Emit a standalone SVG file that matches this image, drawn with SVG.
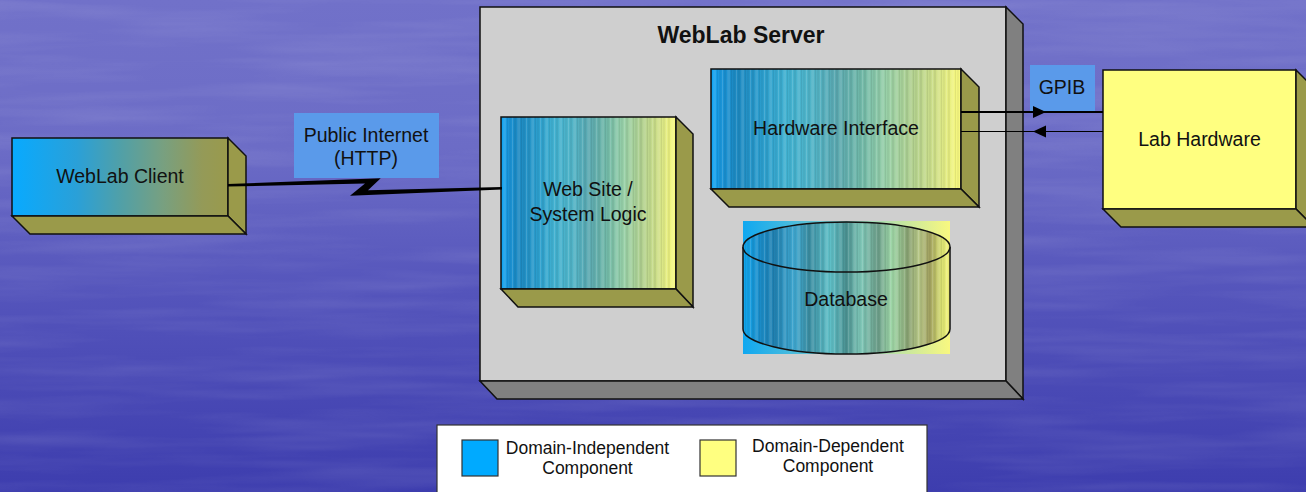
<svg xmlns="http://www.w3.org/2000/svg" width="1306" height="492" viewBox="0 0 1306 492">
  <defs>
    <linearGradient id="bg" x1="0" y1="0" x2="0" y2="1">
      <stop offset="0" stop-color="#7171c9"/>
      <stop offset="0.3" stop-color="#6c6cc6"/>
      <stop offset="0.6" stop-color="#5454bb"/>
      <stop offset="1" stop-color="#3d3dae"/>
    </linearGradient>
    <filter id="marble" x="0" y="0" width="100%" height="100%">
      <feTurbulence type="fractalNoise" baseFrequency="0.004 0.06" numOctaves="3" seed="7"/>
      <feColorMatrix type="matrix" values="0 0 0 0 1  0 0 0 0 1  0 0 0 0 1  0 0 0 -0.9 0.55"/>
    </filter>
    <linearGradient id="clientFill" x1="0" y1="0" x2="1" y2="0">
      <stop offset="0" stop-color="#08aaff"/>
      <stop offset="0.3" stop-color="#2aa0d8"/>
      <stop offset="0.5" stop-color="#50a0a8"/>
      <stop offset="0.7" stop-color="#78a080"/>
      <stop offset="0.88" stop-color="#949a58"/>
      <stop offset="1" stop-color="#9a9a4c"/>
    </linearGradient>
    <linearGradient id="compFill" x1="0" y1="0" x2="1" y2="0">
      <stop offset="0" stop-color="#10a8f8"/>
      <stop offset="0.04" stop-color="#1a94d8"/>
      <stop offset="0.1" stop-color="#1c88c0"/>
      <stop offset="0.2" stop-color="#2a9ccc"/>
      <stop offset="0.3" stop-color="#40b0d0"/>
      <stop offset="0.4" stop-color="#50b4c8"/>
      <stop offset="0.5" stop-color="#5aa8b0"/>
      <stop offset="0.6" stop-color="#70b8a8"/>
      <stop offset="0.7" stop-color="#98d0a8"/>
      <stop offset="0.8" stop-color="#b0d090"/>
      <stop offset="0.9" stop-color="#d0e088"/>
      <stop offset="0.97" stop-color="#f0f480"/>
      <stop offset="1" stop-color="#f8f880"/>
    </linearGradient>
    <linearGradient id="dbBack" x1="0" y1="0" x2="1" y2="0">
      <stop offset="0" stop-color="#10a8f0"/>
      <stop offset="0.5" stop-color="#88d0c8"/>
      <stop offset="1" stop-color="#f8f880"/>
    </linearGradient>
    <linearGradient id="dbFill" x1="0" y1="0" x2="1" y2="0">
      <stop offset="0" stop-color="#10a8f0"/>
      <stop offset="0.08" stop-color="#1a8cc8"/>
      <stop offset="0.15" stop-color="#2080b0"/>
      <stop offset="0.25" stop-color="#40a8d0"/>
      <stop offset="0.32" stop-color="#3a8ca0"/>
      <stop offset="0.42" stop-color="#60c0c8"/>
      <stop offset="0.5" stop-color="#4a9090"/>
      <stop offset="0.57" stop-color="#80c8b8"/>
      <stop offset="0.65" stop-color="#6a9c88"/>
      <stop offset="0.72" stop-color="#a0d8a8"/>
      <stop offset="0.8" stop-color="#88a070"/>
      <stop offset="0.85" stop-color="#b8c888"/>
      <stop offset="0.9" stop-color="#a0a060"/>
      <stop offset="0.96" stop-color="#d8e070"/>
      <stop offset="1" stop-color="#f8f880"/>
    </linearGradient>
    <!-- fine vertical banding laid over the component faces -->
    <pattern id="stripes" patternUnits="userSpaceOnUse" width="14" height="10">
      <rect x="0" y="0" width="2" height="10" fill="#fff" fill-opacity="0.11"/>
      <rect x="3" y="0" width="1" height="10" fill="#000" fill-opacity="0.07"/>
      <rect x="5" y="0" width="2" height="10" fill="#000" fill-opacity="0.04"/>
      <rect x="8" y="0" width="1" height="10" fill="#fff" fill-opacity="0.14"/>
      <rect x="10" y="0" width="2" height="10" fill="#000" fill-opacity="0.06"/>
      <rect x="13" y="0" width="1" height="10" fill="#fff" fill-opacity="0.08"/>
    </pattern>
  </defs>
  <style>
    .edge { stroke: #111; stroke-width: 1.5; stroke-linejoin: miter; }
    .olive { fill: #9a9a4a; }
    .grey-side { fill: #808080; }
    .label { font-family: "Liberation Sans", Arial, sans-serif; font-size: 19.5px; fill: #111; text-anchor: middle; }
    .title { font-family: "Liberation Sans", Arial, sans-serif; font-size: 23px; font-weight: bold; fill: #111; text-anchor: middle; }
    .legend-text { font-family: "Liberation Sans", Arial, sans-serif; font-size: 17.5px; fill: #111; text-anchor: middle; }
    .tag { fill: #5a9aea; }
  </style>

  <!-- backdrop -->
  <rect x="0" y="0" width="1306" height="492" fill="url(#bg)"/>
  <rect x="0" y="0" width="1306" height="492" filter="url(#marble)" opacity="0.2"/>

  <g id="server">
    <rect class="edge" x="480" y="7" width="526" height="374" fill="#cfcfcf"/>
    <polygon class="edge grey-side" points="1006,7 1023,24 1023,399 1006,381"/>
    <polygon class="edge grey-side" points="480,381 1006,381 1023,399 497,399"/>
    <text class="title" x="741" y="43">WebLab Server</text>
  </g>

  <g id="client">
    <rect class="edge" x="12" y="138" width="216" height="78" fill="url(#clientFill)"/>
    <polygon class="edge olive" points="228,138 246,156 246,234 228,216"/>
    <polygon class="edge olive" points="12,216 228,216 246,234 30,234"/>
    <text class="label" x="120" y="183">WebLab Client</text>
  </g>

  <g id="web-site">
    <rect x="501" y="117" width="175" height="172" fill="url(#compFill)"/>
    <rect x="501" y="117" width="175" height="172" fill="url(#stripes)"/>
    <rect class="edge" x="501" y="117" width="175" height="172" fill="none"/>
    <polygon class="edge olive" points="676,117 693,134 693,307 676,289"/>
    <polygon class="edge olive" points="501,289 676,289 693,307 518,307"/>
    <text class="label" x="588" y="196">Web Site /</text>
    <text class="label" x="588" y="221">System Logic</text>
  </g>

  <g id="hardware-interface">
    <rect x="711" y="69" width="250" height="120" fill="url(#compFill)"/>
    <rect x="711" y="69" width="250" height="120" fill="url(#stripes)"/>
    <rect class="edge" x="711" y="69" width="250" height="120" fill="none"/>
    <polygon class="edge olive" points="961,69 979,87 979,207 961,189"/>
    <polygon class="edge olive" points="711,189 961,189 979,207 729,207"/>
    <text class="label" x="836" y="135">Hardware Interface</text>
  </g>

  <g id="database">
    <rect x="743" y="221" width="207" height="133" fill="url(#dbBack)"/>
    <path d="M743,247 L743,329 A103.5,25 0 0 0 950,329 L950,247 Z" fill="url(#dbFill)"/>
    <path d="M743,247 L743,329 A103.5,25 0 0 0 950,329 L950,247 Z" fill="url(#stripes)"/>
    <path class="edge" d="M743,247 L743,329 A103.5,25 0 0 0 950,329 L950,247" fill="none"/>
    <ellipse cx="846.5" cy="247" rx="103.5" ry="25" fill="url(#dbFill)"/>
    <ellipse cx="846.5" cy="247" rx="103.5" ry="25" fill="url(#stripes)"/>
    <ellipse class="edge" cx="846.5" cy="247" rx="103.5" ry="25" fill="none"/>
    <text class="label" x="846" y="306">Database</text>
  </g>

  <g id="lab-hardware">
    <rect class="edge" x="1103" y="70" width="193" height="139" fill="#ffff80"/>
    <polygon class="edge olive" points="1296,70 1314,88 1314,227 1296,209"/>
    <polygon class="edge olive" points="1103,209 1296,209 1314,227 1121,227"/>
    <text class="label" x="1199.5" y="146">Lab Hardware</text>
  </g>

  <g id="tags">
    <rect class="tag" x="294" y="113" width="145" height="65"/>
    <text class="label" x="366" y="142">Public Internet</text>
    <text class="label" x="366" y="165">(HTTP)</text>
    <rect class="tag" x="1030" y="65" width="65" height="47"/>
    <text class="label" x="1062" y="94">GPIB</text>
  </g>

  <g id="connectors">
    <!-- lightning link: client to web site -->
    <polygon fill="#000" points="228,184 380.7,178.3 368,190.2 502,187 502,189.5 350,195.7 365,183.6 228,186.5"/>
    <!-- GPIB out -->
    <line x1="961" y1="112" x2="1103" y2="112" stroke="#000" stroke-width="2"/>
    <polygon fill="#000" points="1033,106 1046,112 1033,118"/>
    <!-- GPIB in -->
    <line x1="961" y1="131.5" x2="1103" y2="131.5" stroke="#000" stroke-width="1.2"/>
    <polygon fill="#000" points="1046,125.5 1033,131.5 1046,137.5"/>
  </g>

  <g id="legend">
    <rect x="437" y="425" width="490" height="80" fill="#fff" stroke="#333" stroke-width="1.2"/>
    <rect x="462" y="440" width="36" height="36" fill="#00aaff" stroke="#333" stroke-width="1.2"/>
    <text class="legend-text" x="587.5" y="454">Domain-Independent</text>
    <text class="legend-text" x="587.5" y="474">Component</text>
    <rect x="700" y="440" width="36" height="36" fill="#ffff80" stroke="#333" stroke-width="1.2"/>
    <text class="legend-text" x="828" y="452">Domain-Dependent</text>
    <text class="legend-text" x="828" y="472">Component</text>
  </g>
</svg>
